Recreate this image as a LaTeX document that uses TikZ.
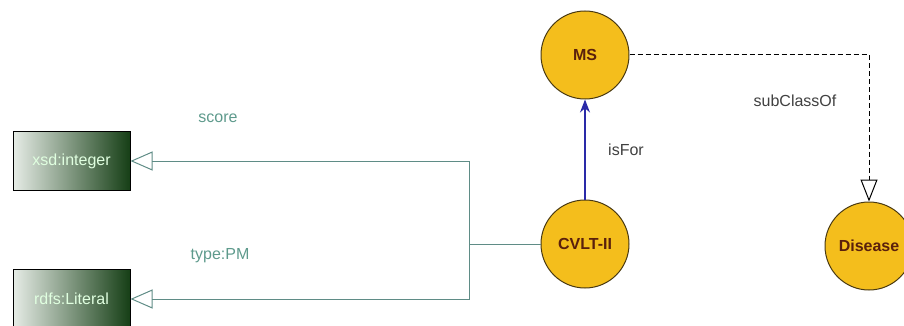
\documentclass[tikz,border=0pt]{standalone}
\usepackage{fontspec}
\setmainfont{Liberation Sans}
\usetikzlibrary{arrows.meta}
\definecolor{circfill}{HTML}{F4BE1C}
\definecolor{circline}{HTML}{4A3A12}
\definecolor{circtext}{HTML}{5A200C}
\definecolor{teal}{HTML}{5F8C86}
\definecolor{labteal}{HTML}{5E9A8C}
\definecolor{dgreen}{HTML}{163F16}
\definecolor{lgreen}{HTML}{E6ECE6}
\definecolor{isblue}{HTML}{2A2AA8}
\tikzset{
  cls/.style={circle, draw=circline, line width=1pt, fill=circfill, minimum size=88pt, inner sep=0pt,
    font=\fontsize{16}{18}\selectfont\bfseries, text=circtext},
  dtype/.style={rectangle, draw=black, line width=1pt, left color=lgreen, right color=dgreen,
    minimum width=117pt, minimum height=59pt, inner sep=0pt, font=\fontsize{16}{18}\selectfont, text=white!88!green},
  prop/.style={draw=teal, line width=1pt, -{Triangle[open, length=22pt, width=19pt]}},
  lab/.style={font=\fontsize{16}{18}\selectfont},
}
\begin{document}
\begin{tikzpicture}[x=1pt,y=-1pt]
\useasboundingbox (0,0) rectangle (904,326);
\node[dtype] (int) at (71.5,161) {xsd:integer};
\node[dtype] (lit) at (71.5,299) {rdfs:Literal};
\node[cls] (ms) at (585,55) {MS};
\node[cls] (cvlt) at (585,244) {CVLT-II};
\node[cls] (dis) at (869,246) {Disease};
\coordinate (j) at (469,244);
\draw[teal, line width=1pt] (cvlt.west) -- (j);
\draw[prop] (j) |- (int.east);
\draw[prop] (j) |- (lit.east);
\draw[isblue, line width=1.2pt, -{Stealth[length=13pt, width=10pt]}] (cvlt.north) -- (ms.south);
\draw[black, line width=1pt, dashed, dash pattern=on 5pt off 3pt, -{Triangle[open, length=22pt, width=17pt]}] (ms.east) -| (dis.north);
\node[lab, text=labteal] (lscore) at (218,118) {score};
\node[lab, text=labteal] (ltype) at (220,256) {type:PM};
\node[lab, text=black!75] (lisfor) at (626,150) {isFor};
\node[lab, text=black!75] (lsub) at (795,101) {subClassOf};
\end{tikzpicture}
\end{document}
